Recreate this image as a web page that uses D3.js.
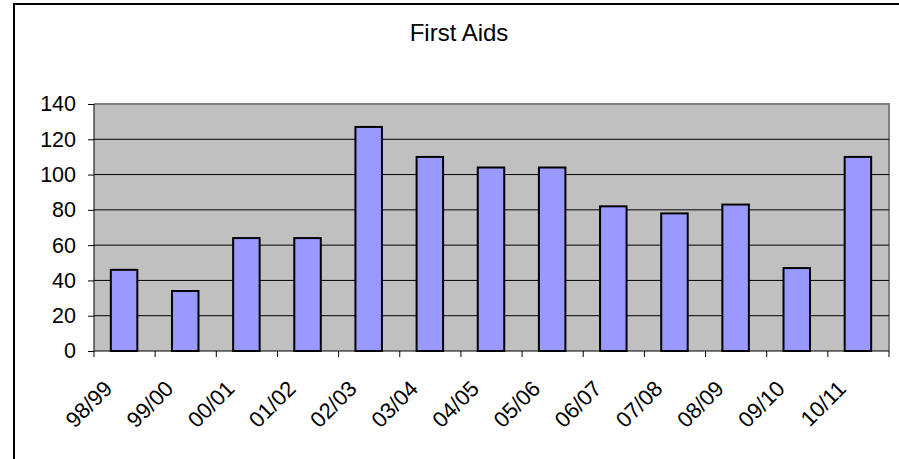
<!DOCTYPE html>
<html><head><meta charset="utf-8">
<script src="https://cdn.jsdelivr.net/npm/d3@7"></script>
<style>body{margin:0;background:#fff}svg{display:block}</style>
</head><body>
<script>
const categories = ["98/99","99/00","00/01","01/02","02/03","03/04","04/05","05/06","06/07","07/08","08/09","09/10","10/11"];
const values = [46,34,64,64,127,110,104,104,82,78,83,47,110];
const yTicks = [0,20,40,60,80,100,120,140];
const title = "First Aids";

const W = 899, H = 459;
const svg = d3.select("body").append("svg").attr("width",W).attr("height",H);
const font = "Arial, 'Liberation Sans', sans-serif";

// outer frame
svg.append("rect").attr("x",14).attr("y",4).attr("width",W+10).attr("height",H+10)
  .attr("fill","none").attr("stroke","#000").attr("stroke-width",2);

const x = d3.scaleBand().domain(categories).range([94,889]).paddingInner(0).paddingOuter(0);
const y = d3.scaleLinear().domain([0,140]).range([351,104]);

// plot area
svg.append("rect").attr("x",94).attr("y",y(140)).attr("width",889-94).attr("height",y(0)-y(140))
  .attr("fill","#C0C0C0");
svg.append("path").attr("d",`M94,${y(140)}H889V${y(0)}`).attr("fill","none")
  .attr("stroke","#808080").attr("stroke-width",2);

// gridlines
svg.append("g").selectAll("line").data(yTicks.filter(d=>d>0 && d<140)).join("line")
  .attr("x1",94).attr("x2",889).attr("y1",d=>y(d)).attr("y2",d=>y(d))
  .attr("stroke","#000").attr("stroke-width",1);

// bars
const bw = 26.5;
svg.append("g").selectAll("rect").data(values).join("rect")
  .attr("x",(d,i)=>x(categories[i])+x.bandwidth()/2-bw/2-0.5)
  .attr("y",d=>y(d)).attr("width",bw).attr("height",d=>y(0)-y(d))
  .attr("fill","#9999FF").attr("stroke","#000").attr("stroke-width",2);

// y axis
const yAxis = d3.axisLeft(y).tickValues(yTicks).tickSize(6).tickPadding(12);
const gy = svg.append("g").attr("transform","translate(94,0)").call(yAxis);
gy.selectAll("text").attr("font-family",font).attr("font-size",21.5).attr("fill","#000");
gy.selectAll("line,path").attr("stroke","#000");
gy.select(".domain").attr("d",`M0,${y(140)}V${y(0)}`).attr("stroke-width",1);

// x axis
const boundaries = d3.range(categories.length+1).map(i=>94 + i*x.bandwidth());
svg.append("line").attr("x1",94).attr("x2",889).attr("y1",y(0)).attr("y2",y(0)).attr("stroke","#000");
svg.append("g").selectAll("line").data(boundaries).join("line")
  .attr("x1",d=>d).attr("x2",d=>d).attr("y1",y(0)).attr("y2",y(0)+6).attr("stroke","#000");
svg.append("g").selectAll("text").data(categories).join("text")
  .attr("transform",d=>`translate(${x(d)+x.bandwidth()/2-11},390) rotate(-45)`)
  .attr("text-anchor","end").attr("font-family",font).attr("font-size",22).attr("fill","#000")
  .text(d=>d);

// title
svg.append("text").attr("x",459).attr("y",41).attr("text-anchor","middle")
  .attr("font-family",font).attr("font-size",24).attr("fill","#000").text(title);
</script>
</body></html>
